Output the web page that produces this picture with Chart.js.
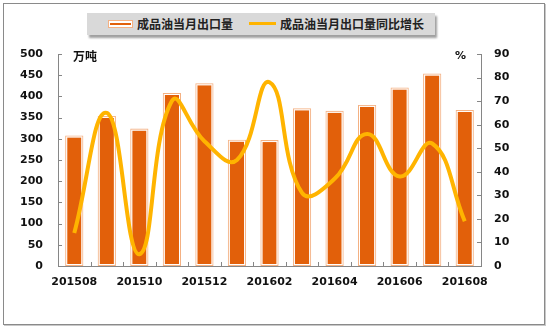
<!DOCTYPE html>
<html lang="zh">
<head>
<meta charset="UTF-8">
<title>成品油当月出口量</title>
<script src="https://cdn.jsdelivr.net/npm/chart.js"></script>
<style>
  body { margin: 0; background: #fff; }
  #wrap { position: relative; width: 551px; height: 331px; overflow: hidden; }
  #frame { position: absolute; left: 3px; top: 3px; width: 540px; height: 320px; border: 1px solid #8a8a8a; box-shadow: 1px 1px 0 #c8c8c8; }
  #legend { position: absolute; left: 87px; top: 13px; width: 348px; height: 22px; background: #d9d9d9;
            box-shadow: 2px 3px 2px #a0a0a0; font: bold 12px "Noto Sans CJK SC", sans-serif; color: #222; }
  #legend span { position: absolute; top: 3px; line-height: 16px; }
  .sym-bar { position: absolute; left: 21px; top: 7px; width: 23px; height: 6px; border: 1px solid #f4b183; background: #fff; }
  .sym-bar i { position: absolute; left: 1px; right: 1px; top: 2px; height: 2px; background: #e2600a; }
  .sym-line { position: absolute; left: 162px; top: 9px; width: 27px; height: 3px; background: #ffb400; }
  canvas { position: absolute; left: 0; top: 0; }
</style>
</head>
<body>
<div id="wrap">
  <div id="frame"></div>
  <div id="legend">
    <div class="sym-bar"><i></i></div><span style="left:50px">成品油当月出口量</span>
    <div class="sym-line"></div><span style="left:193px">成品油当月出口量同比增长</span>
  </div>
  <canvas id="chart" width="551" height="331"></canvas>
</div>
<script>
// 月份
const months = ['201508', '201509', '201510', '201511', '201512', '201601', '201602',
                '201603', '201604', '201605', '201606', '201607', '201608'];
// 成品油当月出口量（万吨）
const exportVol = [308, 354, 324, 408, 431, 298, 297, 372, 366, 380, 421, 454, 368];
// 同比增长（%）
const yoyGrowth = [14, 65, 5, 70, 53, 45, 78, 31, 37, 56, 38, 52, 19];

const axisGrey = '#868686';
const tickFont = { family: 'DejaVu Sans', size: 11, weight: 'bold' };

// white gap inside bar outline + inward tick marks + unit labels
const extras = {
    id: 'extras',
    afterDatasetDraw(chart, args) {
        if (args.index !== 0) return;
        const ctx = chart.ctx;
        ctx.save();
        ctx.strokeStyle = '#ffffff';
        ctx.lineWidth = 1;
        args.meta.data.forEach(bar => {
            const p = bar.getProps(['x', 'y', 'base', 'width'], true);
            ctx.strokeRect(p.x - p.width / 2 + 1.5, p.y + 1.5, p.width - 3, p.base - p.y - 3);
        });
        ctx.restore();
    },
    afterDraw(chart) {
        const ctx = chart.ctx;
        const a = chart.chartArea;
        const s = chart.scales;
        ctx.save();
        ctx.strokeStyle = axisGrey;
        ctx.lineWidth = 1;
        ctx.beginPath();
        s.y.ticks.forEach(t => {
            const yy = Math.round(s.y.getPixelForValue(t.value)) + 0.5;
            ctx.moveTo(a.left, yy); ctx.lineTo(a.left + 4, yy);
        });
        s.y1.ticks.forEach(t => {
            const yy = Math.round(s.y1.getPixelForValue(t.value)) + 0.5;
            ctx.moveTo(a.right - 4, yy); ctx.lineTo(a.right, yy);
        });
        const step = (a.right - a.left) / months.length;
        for (let i = 1; i < months.length; i++) {
            const xx = Math.round(a.left + i * step) + 0.5;
            ctx.moveTo(xx, a.bottom - 4); ctx.lineTo(xx, a.bottom);
        }
        ctx.stroke();
        ctx.fillStyle = '#111';
        ctx.font = 'bold 12px "Noto Sans CJK SC", sans-serif';
        ctx.textBaseline = 'middle';
        ctx.textAlign = 'left';
        ctx.fillText('万吨', 73, 56);
        ctx.font = 'bold 11px "DejaVu Sans"';
        ctx.fillText('%', 455, 56);
        ctx.restore();
    }
};

new Chart(document.getElementById('chart'), {
    data: {
        labels: months,
        datasets: [{
            type: 'bar',
            label: '成品油当月出口量',
            data: exportVol,
            yAxisID: 'y',
            backgroundColor: '#e2600a',
            borderColor: '#f4b183',
            borderWidth: 2,
            borderSkipped: false,
            categoryPercentage: 1,
            barPercentage: 0.56,
            order: 2
        }, {
            type: 'line',
            label: '成品油当月出口量同比增长',
            data: yoyGrowth,
            yAxisID: 'y1',
            borderColor: '#ffb400',
            borderWidth: 4,
            pointRadius: 0,
            tension: 0.45,
            clip: false,
            order: 1
        }]
    },
    options: {
        responsive: false,
        animation: false,
        layout: { padding: { top: 54, left: 0, right: 0, bottom: 0 } },
        plugins: { legend: { display: false }, tooltip: { enabled: false } },
        scales: {
            x: {
                offset: true,
                grid: { display: false, drawTicks: false },
                border: { color: axisGrey },
                ticks: {
                    autoSkip: false, maxRotation: 0, padding: 10,
                    color: '#111', font: tickFont,
                    callback: (v, i) => i % 2 === 0 ? months[i] : ''
                },
                afterFit: s => { s.height = 65; }
            },
            y: {
                position: 'left',
                min: 0, max: 500,
                grid: { display: false, drawTicks: false },
                border: { color: axisGrey },
                ticks: { stepSize: 50, padding: 15, color: '#111', font: tickFont },
                afterFit: s => { s.width = 58; }
            },
            y1: {
                position: 'right',
                min: 0, max: 90,
                grid: { display: false, drawTicks: false },
                border: { color: axisGrey },
                ticks: { stepSize: 10, padding: 13, color: '#111', font: tickFont },
                afterFit: s => { s.width = 70; }
            }
        }
    },
    plugins: [extras]
});
</script>
</body>
</html>
